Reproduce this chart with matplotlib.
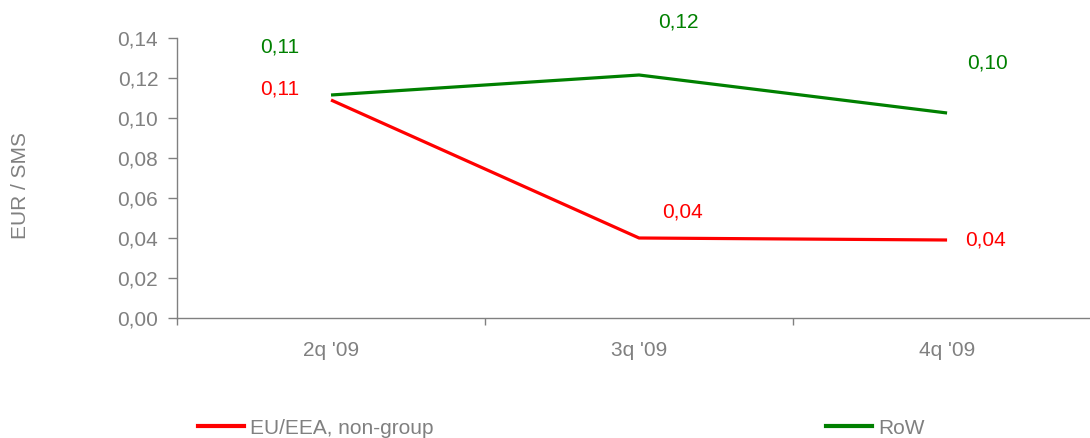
import matplotlib
matplotlib.use("Agg")
import matplotlib.pyplot as plt
from matplotlib.lines import Line2D

quarters = ["2q '09", "3q '09", "4q '09"]
eu_eea = [0.109, 0.040, 0.039]
row = [0.1115, 0.1215, 0.1025]
eu_labels = ["0,11", "0,04", "0,04"]
row_labels = ["0,11", "0,12", "0,10"]

plt.rcParams['font.family'] = ['Liberation Sans', 'DejaVu Sans']
grey = '#808080'
red = '#ff0000'
green = '#008000'
fs = 15

fig = plt.figure(figsize=(10.9, 4.38), dpi=100)
ax = fig.add_axes([177 / 1090, 120 / 438, 913 / 1090, 280 / 438])

x = list(range(len(quarters)))
ax.plot(x, eu_eea, color=red, lw=2.3, solid_capstyle='butt')
ax.plot(x, row, color=green, lw=2.3, solid_capstyle='butt')

# data labels, offsets in pixels like the excel placement
eu_off = [(-51, 11), (43, 26), (38, 0)]
row_off = [(-51, 48), (39, 53), (40, 50)]
for i in x:
    ax.annotate(eu_labels[i], (i, eu_eea[i]), xytext=eu_off[i], textcoords='offset pixels',
                ha='center', va='center', color=red, fontsize=fs, annotation_clip=False)
    ax.annotate(row_labels[i], (i, row[i]), xytext=row_off[i], textcoords='offset pixels',
                ha='center', va='center', color=green, fontsize=fs, annotation_clip=False)

ax.set_xlim(-0.5, 2.464)
ax.set_ylim(0, 0.14)
ax.set_yticks([0.0, 0.02, 0.04, 0.06, 0.08, 0.10, 0.12, 0.14])
ax.set_yticklabels([f"{v:.2f}".replace('.', ',') for v in ax.get_yticks()])
ax.set_xticks([-0.5, 0.5, 1.5])
ax.set_xticklabels([])
ax.set_xticks(x, minor=True)
ax.set_xticklabels(quarters, minor=True)

ax.tick_params(axis='y', colors=grey, labelsize=fs, length=6.5, width=1, pad=7)
ax.tick_params(axis='x', which='major', colors=grey, length=5, width=1)
ax.tick_params(axis='x', which='minor', colors=grey, labelsize=fs, length=0, pad=16.5)

for s in ['top', 'right']:
    ax.spines[s].set_visible(False)
for s in ['left', 'bottom']:
    ax.spines[s].set_color(grey)
    ax.spines[s].set_linewidth(1)

fig.text(21 / 1090, 1 - 185 / 438, 'EUR / SMS', rotation=90, color=grey, fontsize=fs,
         ha='center', va='center')

leg_kw = dict(loc='center left', frameon=False, fontsize=fs, handlelength=2.2,
              handletextpad=0.3, borderpad=0, borderaxespad=0, labelcolor=grey)
fig.legend([Line2D([], [], color=red, lw=3)], ['EU/EEA, non-group'],
           bbox_to_anchor=(198 / 1090, 1 - 428 / 438), **leg_kw)
fig.legend([Line2D([], [], color=green, lw=3)], ['RoW'],
           bbox_to_anchor=(826 / 1090, 1 - 428 / 438), **leg_kw)

fig.savefig('out.png', dpi=100)
